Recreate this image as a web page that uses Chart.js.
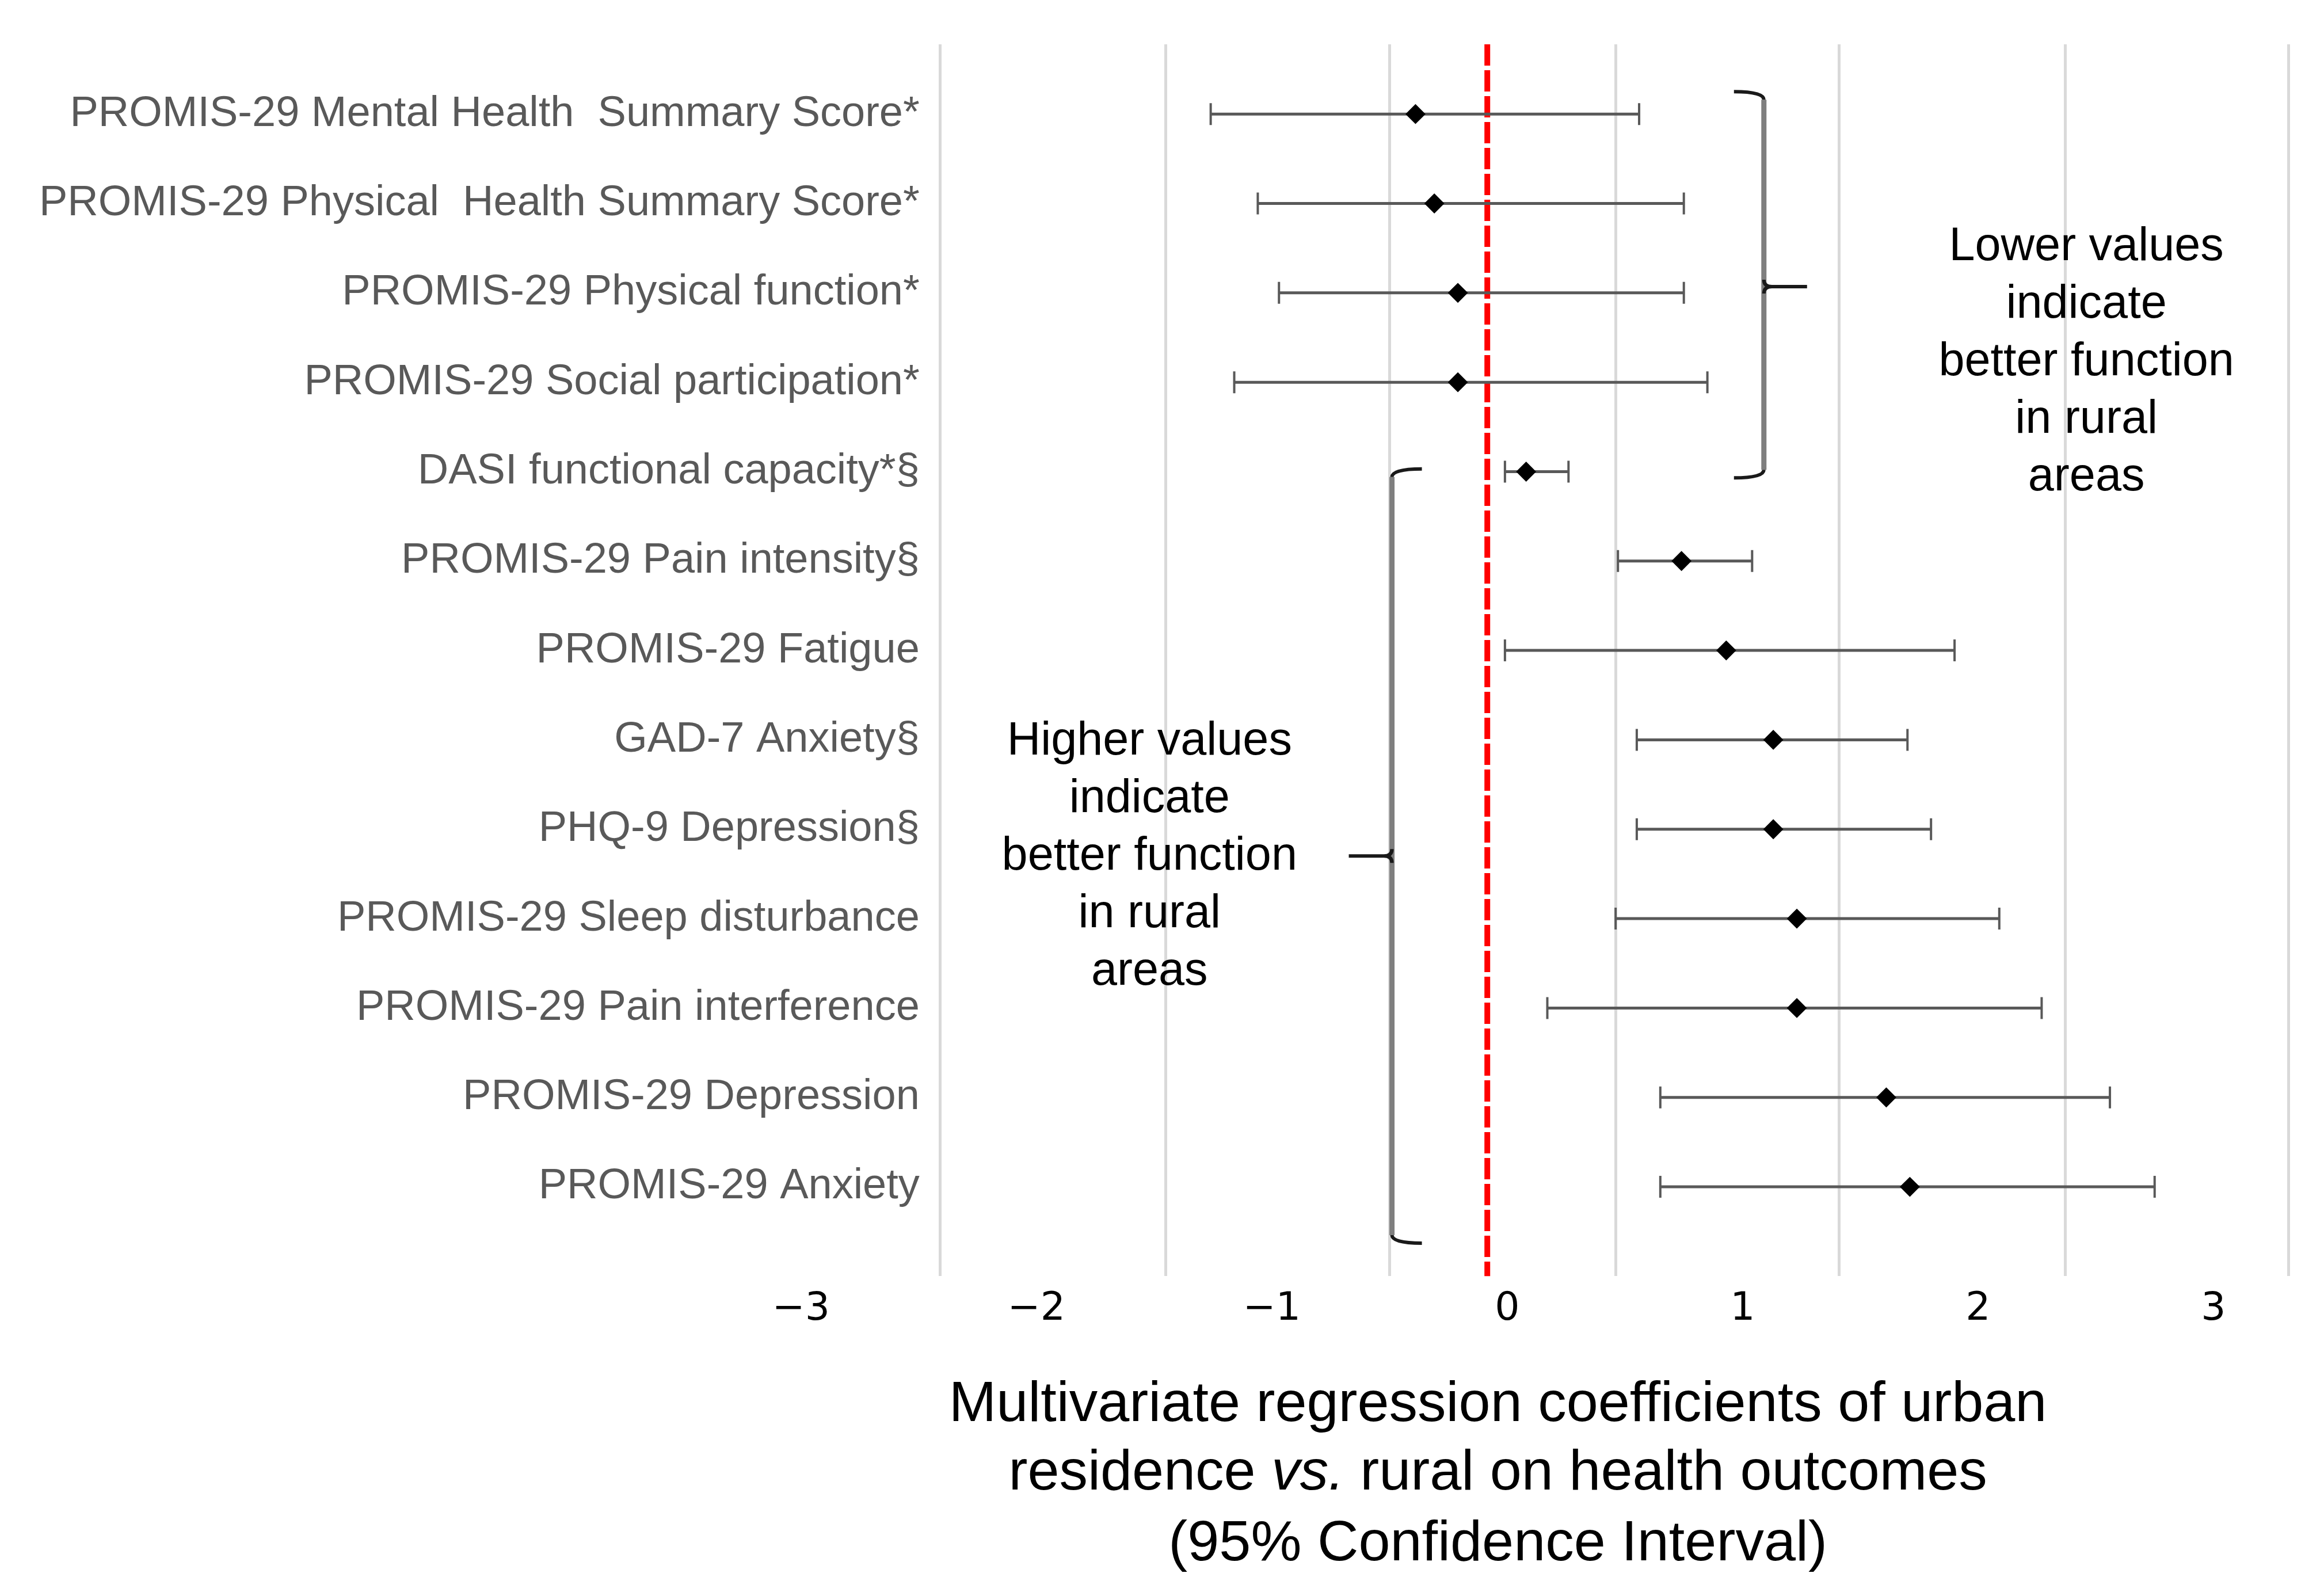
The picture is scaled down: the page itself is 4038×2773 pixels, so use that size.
<!DOCTYPE html>
<html>
<head>
<meta charset="utf-8">
<script src="https://cdn.jsdelivr.net/npm/chart.js@4"></script>
<style>
  html, body { margin: 0; padding: 0; background: #fff; }
  canvas { display: block; }
</style>
</head>
<body>
<canvas id="forestChart" width="4038" height="2773"></canvas>
<script>
// outcomes, top to bottom
var outcomes = [
  "PROMIS-29 Mental Health  Summary Score*",
  "PROMIS-29 Physical  Health Summary Score*",
  "PROMIS-29 Physical function*",
  "PROMIS-29 Social participation*",
  "DASI functional capacity*§",
  "PROMIS-29 Pain intensity§",
  "PROMIS-29 Fatigue",
  "GAD-7 Anxiety§",
  "PHQ-9 Depression§",
  "PROMIS-29 Sleep disturbance",
  "PROMIS-29 Pain interference",
  "PROMIS-29 Depression",
  "PROMIS-29 Anxiety"
];
// regression coefficients and 95% CI
var estimates = [-0.39, -0.31, -0.21, -0.21, 0.08, 0.74, 0.93, 1.13, 1.13, 1.23, 1.23, 1.61, 1.71];
var ciLow     = [-1.26, -1.06, -0.97, -1.16, -0.01, 0.47, -0.01, 0.55, 0.55, 0.46, 0.17, 0.65, 0.65];
var ciHigh    = [0.56, 0.75, 0.75, 0.85, 0.26, 1.04, 1.90, 1.70, 1.80, 2.09, 2.27, 2.56, 2.75];

var tickValues = [-3, -2, -1, 0, 1, 2, 3];
var gridValues = [-2.41, -1.45, -0.50, 0.46, 1.41, 2.37, 3.32];
var refValue = -0.085;

var titleLines = [
  [{ t: "Multivariate regression coefficients of urban" }],
  [{ t: "residence " }, { t: "vs.", italic: true }, { t: " rural on health outcomes" }],
  [{ t: "(95% Confidence Interval)" }]
];
var noteRight = ["Lower values", "indicate", "better function", "in rural", "areas"];
var noteLeft = ["Higher values", "indicate", "better function", "in rural", "areas"];

var SANS = "'Liberation Sans', Arial, sans-serif";

// build error-bar segments with gaps between rows
var ciData = [];
outcomes.forEach(function (o, i) {
  ciData.push({ x: ciLow[i], y: i });
  ciData.push({ x: ciHigh[i], y: i });
  ciData.push({ x: null, y: null });
});
var pointData = estimates.map(function (v, i) { return { x: v, y: i }; });

var yMin = -0.78, yMax = 13.0;

function fmtTick(v) {
  return v < 0 ? "\u2212" + Math.abs(v) : String(v);
}

function drawBrace(ctx, xs, ys, b, dir) {
  var px = xs.getPixelForValue(b.x);
  var top = ys.getPixelForValue(b.from);
  var bot = ys.getPixelForValue(b.to);
  var mid = ys.getPixelForValue(b.tip);
  var hook = 52, tip = 75, r = 14;
  ctx.save();
  ctx.lineCap = "butt";
  ctx.strokeStyle = "#7f7f7f";
  ctx.lineWidth = 9;
  ctx.beginPath();
  ctx.moveTo(px, top + r);
  ctx.lineTo(px, bot - r);
  ctx.stroke();
  ctx.strokeStyle = "#1a1a1a";
  ctx.lineWidth = 6;
  ctx.beginPath();
  ctx.moveTo(px - dir * hook, top);
  ctx.quadraticCurveTo(px, top, px, top + r);
  ctx.moveTo(px - dir * hook, bot);
  ctx.quadraticCurveTo(px, bot, px, bot - r);
  ctx.stroke();
  ctx.beginPath();
  ctx.moveTo(px, mid - 12);
  ctx.quadraticCurveTo(px, mid, px + dir * 14, mid);
  ctx.quadraticCurveTo(px, mid, px, mid + 12);
  ctx.moveTo(px + dir * 14, mid);
  ctx.lineTo(px + dir * tip, mid);
  ctx.stroke();
  ctx.restore();
}

function drawNote(ctx, xs, ys, lines, xv, midRow) {
  var cx = xs.getPixelForValue(xv);
  var cy = ys.getPixelForValue(midRow);
  var lh = 100;
  ctx.save();
  ctx.fillStyle = "#000";
  ctx.font = "81px " + SANS;
  ctx.textAlign = "center";
  ctx.textBaseline = "alphabetic";
  var midIdx = (lines.length - 1) / 2;
  lines.forEach(function (s, k) {
    ctx.fillText(s, cx, cy + (k - midIdx) * lh);
  });
  ctx.restore();
}

var annotate = {
  id: "annotate",
  afterDatasetsDraw: function (chart) {
    var ctx = chart.ctx, xs = chart.scales.x, ys = chart.scales.y;
    drawBrace(ctx, xs, ys, { x: 1.09, from: -0.25, to: 4.07, tip: 1.93 }, 1);
    drawBrace(ctx, xs, ys, { x: -0.49, from: 3.97, to: 12.63, tip: 8.30 }, -1);
    drawNote(ctx, xs, ys, noteRight, 2.46, 2.92);
    drawNote(ctx, xs, ys, noteLeft, -1.52, 8.455);

    // axis title, three centred lines, "vs." in italics
    var cx = xs.getPixelForValue(-0.04);
    var base = chart.chartArea.bottom;
    var offsets = [252, 371, 494];
    ctx.save();
    ctx.fillStyle = "#000";
    ctx.textBaseline = "alphabetic";
    ctx.textAlign = "left";
    titleLines.forEach(function (parts, k) {
      var w = 0;
      parts.forEach(function (p) {
        ctx.font = (p.italic ? "italic " : "") + "99px " + SANS;
        p.w = ctx.measureText(p.t).width;
        w += p.w;
      });
      var x0 = cx - w / 2;
      parts.forEach(function (p) {
        ctx.font = (p.italic ? "italic " : "") + "99px " + SANS;
        ctx.fillText(p.t, x0, base + offsets[k]);
        x0 += p.w;
      });
    });
    ctx.restore();
  }
};

var ctx1 = document.getElementById("forestChart").getContext("2d");
var forestChart = new Chart(ctx1, {
  type: "scatter",
  data: {
    datasets: [
      {
        label: "Estimate",
        data: pointData,
        pointStyle: "rectRot",
        pointRadius: 16,
        pointBackgroundColor: "#000",
        pointBorderColor: "#000",
        pointBorderWidth: 2,
        order: 0
      },
      {
        type: "line",
        label: "95% CI",
        data: ciData,
        borderColor: "#595959",
        borderWidth: 5,
        spanGaps: false,
        pointStyle: "line",
        pointRotation: 90,
        pointRadius: 19,
        pointBorderWidth: 4,
        pointBorderColor: "#595959",
        order: 1
      },
      {
        type: "line",
        label: "Reference",
        data: [{ x: refValue, y: yMin }, { x: refValue, y: yMax }],
        borderColor: "#ff0000",
        borderWidth: 10,
        borderDash: [37, 8],
        pointRadius: 0,
        order: 2
      }
    ]
  },
  options: {
    responsive: false,
    animation: false,
    devicePixelRatio: 1,
    layout: { padding: { left: 68, right: 28, top: 77, bottom: 440 } },
    plugins: {
      legend: { display: false },
      tooltip: { enabled: false }
    },
    scales: {
      x: {
        type: "linear",
        position: "bottom",
        min: -6.237,
        max: 3.401,
        afterBuildTicks: function (scale) {
          var vals = gridValues.concat(tickValues).sort(function (a, b) { return a - b; });
          scale.ticks = vals.map(function (v) { return { value: v }; });
        },
        border: { display: false },
        grid: {
          drawTicks: false,
          lineWidth: 5,
          color: function (c) {
            return c.tick && gridValues.indexOf(c.tick.value) >= 0 ? "#d9d9d9" : "rgba(0,0,0,0)";
          }
        },
        ticks: {
          autoSkip: false,
          maxRotation: 0,
          padding: 17,
          color: "#000",
          font: { family: "'DejaVu Sans', sans-serif", size: 68 },
          callback: function (v) {
            return tickValues.indexOf(v) >= 0 ? fmtTick(v) : "";
          }
        }
      },
      y: {
        type: "linear",
        position: "left",
        reverse: true,
        min: yMin,
        max: yMax,
        afterBuildTicks: function (scale) {
          scale.ticks = outcomes.map(function (o, i) { return { value: i }; });
        },
        border: { display: false },
        grid: { display: false, drawTicks: false },
        ticks: {
          mirror: true,
          crossAlign: "far",
          padding: 0,
          autoSkip: false,
          color: "#595959",
          font: { family: SANS, size: 74 },
          callback: function (v) { return outcomes[v]; }
        }
      }
    }
  },
  plugins: [annotate]
});
</script>
</body>
</html>
